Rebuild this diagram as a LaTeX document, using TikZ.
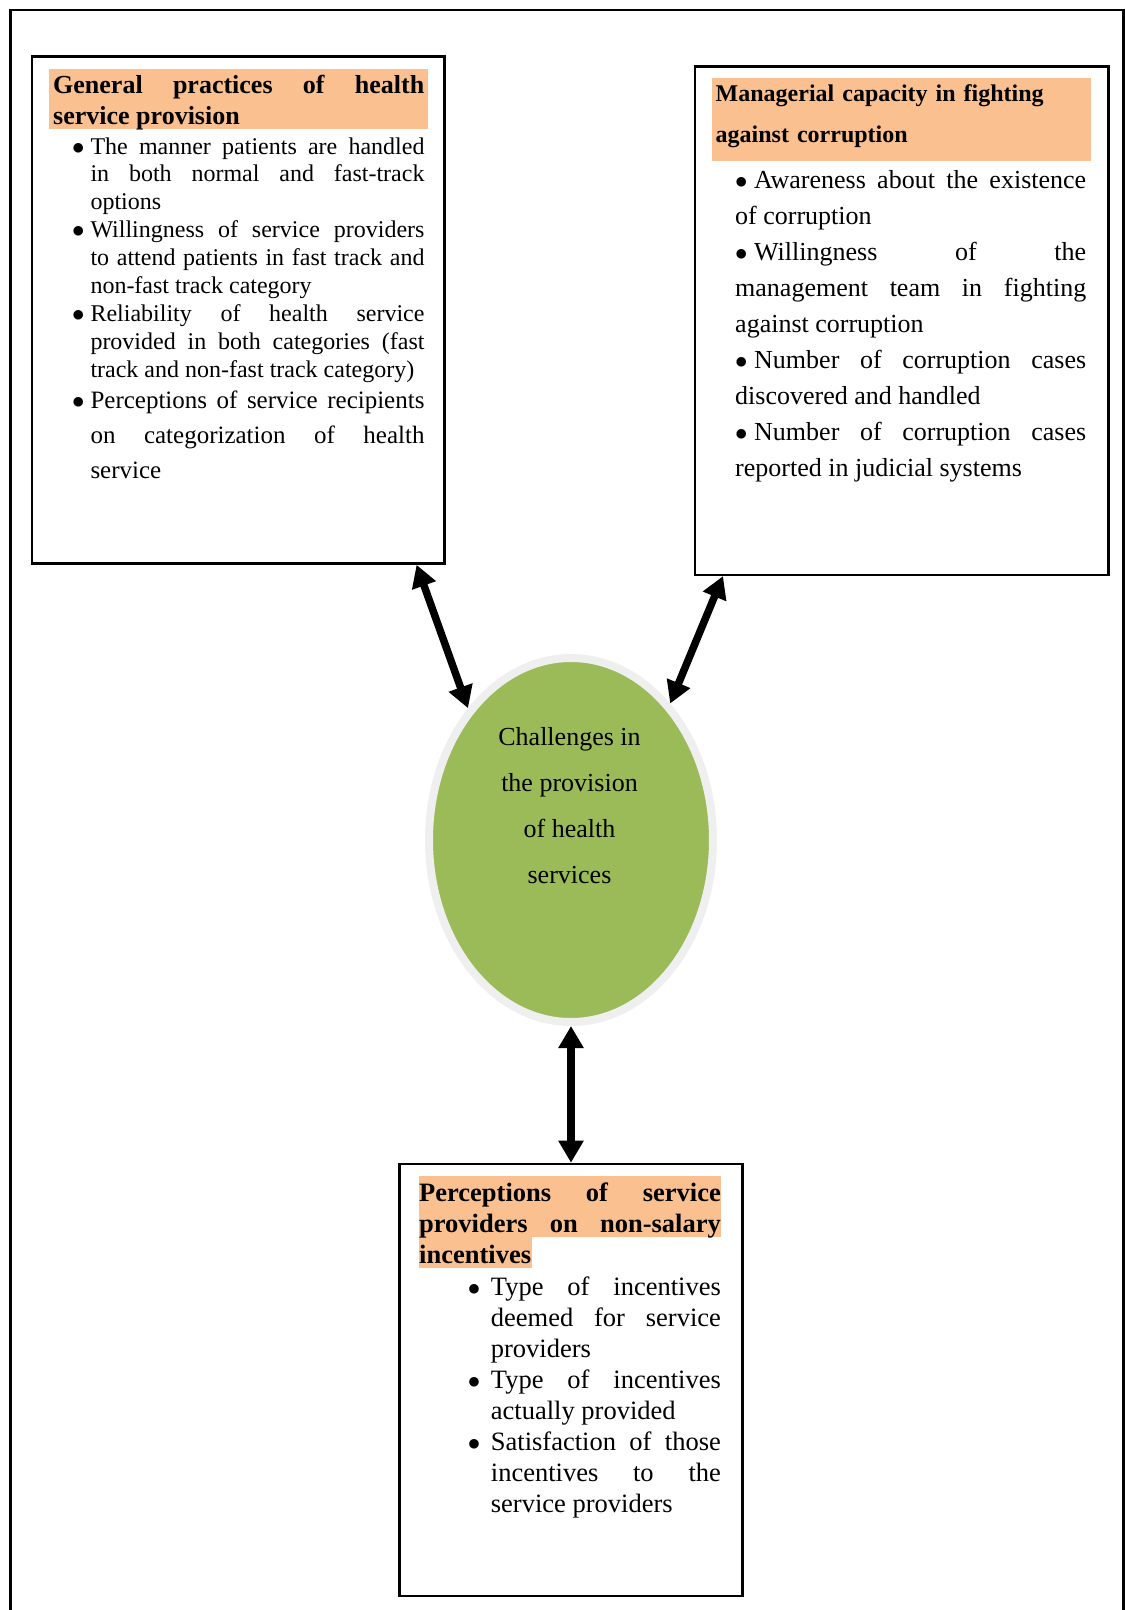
\documentclass[tikz,border=0pt]{standalone}
\usepackage{fontspec}
\setmainfont{Liberation Serif}
\usetikzlibrary{arrows.meta,shapes.geometric,shadows}

\definecolor{headfill}{HTML}{FAC090}
\definecolor{hubgreen}{HTML}{9BBB59}
\definecolor{hubring}{HTML}{EFEFEF}

\newcommand{\fsz}[2]{\fontsize{#1}{#2}\selectfont\hyphenpenalty=10000\exhyphenpenalty=10000\hbadness=10000}
\newcommand{\itm}[1]{\noindent\llap{\makebox[#1][l]{$\bullet$}}}
\newcommand{\inl}{\noindent\makebox[19pt][l]{$\bullet$}}

\begin{document}
\begin{tikzpicture}[x=1pt,y=-1pt,
		panel/.style={draw,line width=2.6pt,inner sep=0pt},
		headtext/.style={anchor=base west,inner sep=0pt,align=justify},
		listtext/.style={anchor=base west,inner sep=0pt,align=justify},
		link/.style={line width=7.5pt,{Triangle[length=22pt,width=24pt]}-{Triangle[length=22pt,width=24pt]}}]
	\useasboundingbox (0,0) rectangle (1125,1610);
	\draw[line width=2.5pt] (10.5,10) rectangle (1123.5,1625);

	% header highlights
	\fill[headfill] (49.3,68.8) rectangle (428,129.3);
	\fill[headfill] (712.4,78) rectangle (1091.2,161.2);
	\fill[headfill] (419,1176.4) rectangle (720.6,1237);
	\fill[headfill] (419,1237) rectangle (531.7,1267.7);

	\node[panel,minimum width=412.7pt,minimum height=507pt] (practices) at (238.15,310) {};
	\node[panel,minimum width=413.6pt,minimum height=508.1pt] (managers) at (901.8,320.75) {};
	\node[panel,minimum width=342.7pt,minimum height=432pt] (incentives) at (571,1380) {};

	\node[headtext,text width=371pt,font=\bfseries\fsz{26}{31}] (practiceshead) at (53,93)
		{General practices of health\linebreak service provision};
	\node[listtext,text width=334pt,font=\fsz{24}{27.9}] (practiceslist) at (90.3,154) {%
		\itm{18.5pt}The manner patients are handled\linebreak in both normal and fast-track\linebreak options\par
		\itm{18.5pt}Willingness of service providers\linebreak to attend patients in fast track and\linebreak non-fast track category\par
		\itm{18.5pt}Reliability of health service\linebreak provided in both categories (fast\linebreak track and non-fast track category)\par
		\vspace{-4.2pt}\fsz{25}{35}%
		\itm{18.5pt}Perceptions of service recipients\linebreak on categorization of health\linebreak service\par};

	\node[headtext,text width=372pt,align=left,font=\bfseries\fsz{24}{41}] (managershead) at (715.5,101.5)
		{Managerial capacity in fighting\\against corruption};
	\node[listtext,text width=351pt,font=\fsz{26}{36}] (managerslist) at (735,188.6) {%
		\inl Awareness about the existence\linebreak of corruption\par
		\inl Willingness of the\linebreak management team in fighting\linebreak against corruption\par
		\inl Number of corruption cases\linebreak discovered and handled\par
		\inl Number of corruption cases\linebreak reported in judicial systems\par};

	\node[headtext,text width=301.6pt,font=\bfseries\fsz{26.5}{31}] (incentiveshead) at (419,1201)
		{Perceptions of service\linebreak providers on non-salary\linebreak incentives};
	\node[listtext,text width=230pt,font=\fsz{26.5}{31}] (incentiveslist) at (490.7,1295) {%
		\itm{23pt}Type of incentives\linebreak deemed for service\linebreak providers\par
		\itm{23pt}Type of incentives\linebreak actually provided\par
		\itm{23pt}Satisfaction of those\linebreak incentives to the\linebreak service providers\par};

	% central challenge
	\node[ellipse,fill=hubgreen,draw=hubring,line width=8pt,minimum width=284pt,minimum height=364pt,inner sep=0pt,
		drop shadow={shadow xshift=2pt,shadow yshift=-3pt,fill=black!30!hubgreen!40}] (hub) at (571,840) {};
	\node[anchor=base,align=center,inner sep=0pt,font=\fsz{26}{46}] (hubtext) at (569.5,883)
		{Challenges in\\the provision\\of health\\services};

	\draw[link] (practices.-55) -- (hub.128);
	\draw[link] (managers.-125.4) -- (hub.54.5);
	\draw[link] (hub.south) -- (incentives.north);
\end{tikzpicture}
\end{document}
